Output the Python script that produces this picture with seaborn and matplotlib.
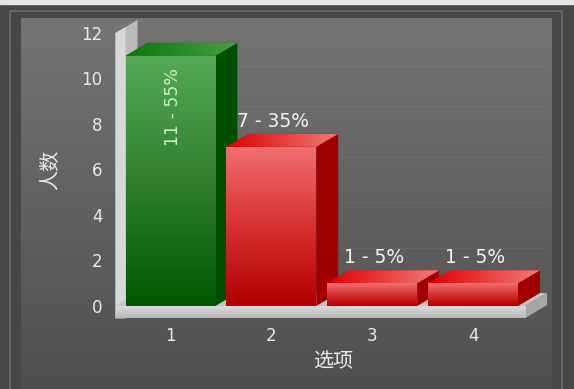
import numpy as np
import matplotlib
matplotlib.use("Agg")
import matplotlib.pyplot as plt
import seaborn as sns
import pandas as pd
from matplotlib.colors import LinearSegmentedColormap
from matplotlib.patches import Polygon, Rectangle

# ---------------- data ----------------
categories = ["1", "2", "3", "4"]
counts = [11, 7, 1, 1]
y_ticks = [0, 2, 4, 6, 8, 10, 12]
x_label = "选项"
y_label = "人数"

# ---------------- style ----------------
sns.set_theme(style="white")
plt.rcParams['font.family'] = ['DejaVu Sans', 'Noto Sans CJK SC']

W, H = 574, 389
fig = plt.figure(figsize=(W / 100, H / 100), dpi=100)
fig.patch.set_facecolor('#474747')

# background panel
bg = fig.add_axes([0, 0, 1, 1], zorder=0)
bg.add_patch(Rectangle((0, 0), W, 4, color='#e6e6e6', zorder=1))
bg.add_patch(Rectangle((10, 11), 552, H, fill=False, ec='#6c6c6c', lw=1.2, zorder=1))
grad = np.linspace(0, 1, 256).reshape(-1, 1)
cmap_bg = LinearSegmentedColormap.from_list('bg', ['#747474', '#4f4f4f'])
bg.imshow(grad, extent=[21, 552, H, 18], cmap=cmap_bg, aspect='auto', zorder=0)
bg.set_xlim(0, W)
bg.set_ylim(H, 0)
bg.axis('off')

# main axes
left, right, top, bottom = 115, 550, 19.35, 318.5
ax = fig.add_axes([left / W, (H - bottom) / H, (right - left) / W, (bottom - top) / H], zorder=1)
ax.patch.set_alpha(0)

df = pd.DataFrame({"opt": categories, "n": counts})
bar_colors = ['#2e8b2e', '#d42020', '#d42020', '#d42020']
sns.barplot(data=df, x="opt", y="n", hue="opt", palette=bar_colors, width=0.89,
            legend=False, ax=ax, linewidth=0)

XMIN, XMAX, YMIN, YMAX = -0.55, 3.762, -0.55, 12.6
dx, dy = 0.218, 0.57

# back-wall grid lines
wall_x0, wall_x1 = -0.545, -0.446
floor_xr = 3.515
for t in y_ticks[1:]:
    ax.plot([wall_x0 + dx, floor_xr + dx], [t + dy, t + dy], color='white', alpha=0.05, lw=0.8, zorder=1)
    ax.plot([wall_x0 - 0.12, wall_x0 + dx], [t, t + dy], color='white', alpha=0.08, lw=0.7, zorder=1)

# left wall
ytop = y_ticks[-1]
ax.add_patch(Polygon([(wall_x0, YMIN), (wall_x0, ytop), (wall_x0 + dx, ytop + dy), (wall_x0 + dx, YMIN + dy)],
                     closed=True, fc='#bcbcbc', ec='none', zorder=2))
ax.add_patch(Polygon([(wall_x0, YMIN), (wall_x0, ytop), (wall_x1, ytop + dy * (wall_x1 - wall_x0) / dx), (wall_x1, YMIN)],
                     closed=True, fc='#d8d8d8', ec='none', zorder=2))
# floor
fb = -0.53
ax.add_patch(Polygon([(wall_x0, 0), (floor_xr, 0), (floor_xr + dx, dy), (wall_x0 + dx, dy)],
                     closed=True, fc='#c4c4c4', ec='none', zorder=3))
ax.add_patch(Polygon([(floor_xr, fb), (floor_xr, 0), (floor_xr + dx, dy), (floor_xr + dx, fb + dy)],
                     closed=True, fc='#a6a6a6', ec='none', zorder=3))
floor_front = Rectangle((wall_x0, fb), floor_xr - wall_x0, -fb, fc='#d4d4d4', ec='none', zorder=3)
ax.add_patch(floor_front)
cm_floor = LinearSegmentedColormap.from_list('fl', ['#b8b8b8', '#dedede'])
imf = ax.imshow(grad[::-1], extent=[wall_x0, floor_xr, fb, 0], cmap=cm_floor, aspect='auto', zorder=3.1)
imf.set_clip_path(floor_front)

# bar styling
schemes = {
    '#2e8b2e': dict(front=['#005800', '#2f7f2f', '#55aa55'], side='#004f00', topc=['#0a780a', '#45a045']),
    '#d42020': dict(front=['#b00000', '#d83030', '#f07070'], side='#a20000', topc=['#dd0000', '#f27a7a']),
}
total = sum(counts)
patches = list(ax.patches)
bar_patches = [p for p in patches if isinstance(p, Rectangle) and p.get_height() > 0 and p is not floor_front]
bar_patches = sorted(bar_patches, key=lambda p: p.get_x())
for i, p in enumerate(bar_patches):
    x, w, h = p.get_x(), p.get_width(), p.get_height()
    sch = schemes[bar_colors[i]]
    zf = 11 + 3 * i
    # side face
    ax.add_patch(Polygon([(x + w, 0), (x + w, h), (x + w + dx, h + dy), (x + w + dx, dy)],
                         closed=True, fc=sch['side'], ec='none', zorder=zf - 1))
    # top face with horizontal gradient
    topP = Polygon([(x, h), (x + w, h), (x + w + dx, h + dy), (x + dx, h + dy)],
                   closed=True, fc=sch['topc'][0], ec='none', zorder=zf - 1)
    ax.add_patch(topP)
    cm_t = LinearSegmentedColormap.from_list('t%d' % i, sch['topc'])
    imt = ax.imshow(np.linspace(0, 1, 256).reshape(1, -1), extent=[x, x + w + dx, h, h + dy],
                    cmap=cm_t, aspect='auto', zorder=zf - 0.9)
    imt.set_clip_path(topP)
    # front face with vertical gradient
    p.set_zorder(zf)
    cm_f = LinearSegmentedColormap.from_list('f%d' % i, sch['front'])
    imb = ax.imshow(grad[::-1], extent=[x, x + w, 0, h], cmap=cm_f, aspect='auto', zorder=zf + 0.1)
    imb.set_clip_path(p)
    # labels
    pct = counts[i] / total * 100
    txt = f"{counts[i]} - {pct:.0f}%"
    cx = x + w / 2
    if i == 0:
        ax.text(cx + 0.02, h - 0.55, txt, rotation=90, ha='center', va='top', color='#cdeec4',
                fontsize=12.5, zorder=40)
    else:
        ax.text(cx + 0.02, h + 0.7, txt, ha='center', va='bottom', color='#f2f2f2',
                fontsize=13.5, zorder=40)

ax.set_xlim(XMIN, XMAX)
ax.set_ylim(YMIN, YMAX)
ax.set_yticks(y_ticks)
ax.set_xlabel("")
ax.set_ylabel("")
for s in ax.spines.values():
    s.set_visible(False)
ax.grid(False)
ax.tick_params(axis='y', length=0, pad=9, colors='#ebebeb', labelsize=12)
ax.tick_params(axis='x', length=0, pad=6, colors='#ebebeb', labelsize=12)

fig.text(50 / W, 1 - 170 / H, y_label, rotation=90, ha='center', va='center', color='#ebebeb',
         fontsize=14.5, family=['Noto Sans CJK SC', 'DejaVu Sans'])
fig.text(333 / W, 1 - 362 / H, x_label, ha='center', va='center', color='#ebebeb',
         fontsize=14.5, family=['Noto Sans CJK SC', 'DejaVu Sans'])

fig.savefig("out.png", dpi=100, facecolor=fig.get_facecolor())
